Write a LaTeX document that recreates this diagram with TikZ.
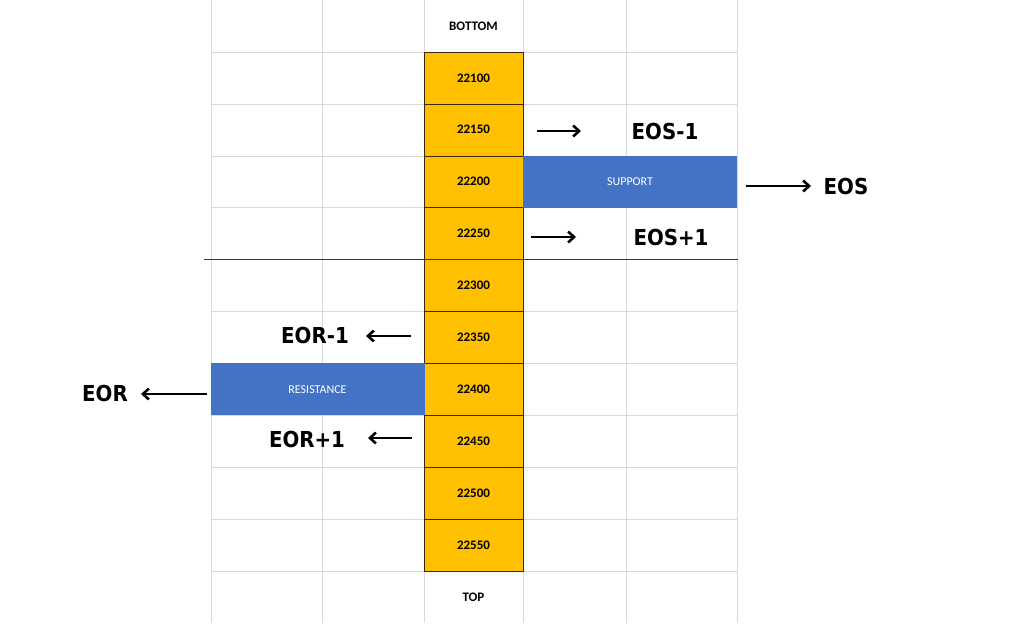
\documentclass[tikz,border=0pt]{standalone}
\usepackage{fontspec}
\setmainfont{Carlito}
\newfontfamily\impact{DejaVu Sans Condensed}
\usetikzlibrary{arrows.meta}
\definecolor{org}{HTML}{FFC000}
\definecolor{blu}{HTML}{4472C4}
\definecolor{grd}{HTML}{D9D9D9}
\begin{document}
\begin{tikzpicture}[x=1pt,y=-1pt,
  cell/.style={draw=black!70!brown,fill=org,minimum width=99pt,minimum height=51.9pt,inner sep=0pt,font=\bfseries\fontsize{13}{13}\selectfont},
  band/.style={fill=blu,minimum width=214pt,minimum height=51.9pt,inner sep=0pt,text=white,font=\fontsize{12}{12}\selectfont},
  big/.style={font=\impact\bfseries\fontsize{22}{22}\selectfont,inner sep=0pt},
  arr/.style={-{Straight Barb[length=6pt,width=11pt]},line width=2.6pt}]
\useasboundingbox (0,0) rectangle (1024,623);
\fill[white] (0,0) rectangle (1024,623);
% grid
\foreach \x in {211,322,424,523,626,737} \draw[grd] (\x,0) -- (\x,623);
\foreach \i in {1,...,11} \draw[grd] (211,{\i*51.9}) -- (737,{\i*51.9});
\node[font=\bfseries\fontsize{13}{13}\selectfont] (bottom) at (473.5,26) {BOTTOM};
\node[font=\bfseries\fontsize{13}{13}\selectfont] (top) at (473.5,597) {TOP};
\foreach \v [count=\i] in {22100,22150,22200,22250,22300,22350,22400,22450,22500,22550}
  \node[cell] (c\i) at (473.5,{\i*51.9+25.95}) {\v};
\node[band] (sup) at (630,181.65) {SUPPORT};
\node[band] (res) at (317.5,389.25) {RESISTANCE};
\draw[red!75!black,line width=1.4pt] (204,259.5) -- (738,259.5);
% labels
\node[big] (eosm) at (665,131) {EOS-1};
\node[big] (eos) at (846,186) {EOS};
\node[big] (eosp) at (671,237) {EOS+1};
\node[big] (eorm) at (315,335) {EOR-1};
\node[big] (eor) at (105,393) {EOR};
\node[big] (eorp) at (307,439) {EOR+1};
\coordinate (a1s) at (537,131); \coordinate (a1e) at (581,131);
\coordinate (a2s) at (746,186); \coordinate (a2e) at (811,186);
\coordinate (a3s) at (531,237); \coordinate (a3e) at (576,237);
\coordinate (b1s) at (411,336); \coordinate (b1e) at (366,336);
\coordinate (b2s) at (207,394); \coordinate (b2e) at (141,394);
\coordinate (b3s) at (412,438); \coordinate (b3e) at (368,438);
\foreach \s/\e in {a1s/a1e,a2s/a2e,a3s/a3e,b1s/b1e,b2s/b2e,b3s/b3e}
  \draw[arr] (\s) -- (\e);
\end{tikzpicture}
\end{document}
